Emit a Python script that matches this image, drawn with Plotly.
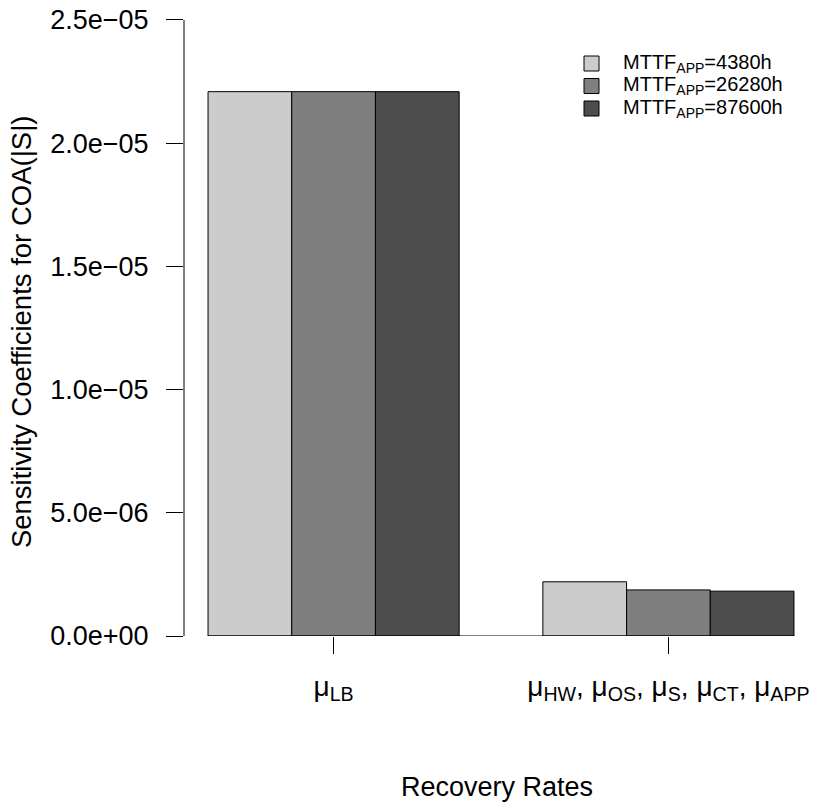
import plotly.graph_objects as go

# Sensitivity coefficients for COA(|S|) by recovery-rate group
groups = ["μ<sub>LB</sub>", "μ<sub>HW</sub>, μ<sub>OS</sub>, μ<sub>S</sub>, μ<sub>CT</sub>, μ<sub>APP</sub>"]
series_names = ["MTTF<sub>APP</sub>=4380h", "MTTF<sub>APP</sub>=26280h", "MTTF<sub>APP</sub>=87600h"]
values_4380 = [2.209e-05, 2.20e-06]
values_26280 = [2.209e-05, 1.87e-06]
values_87600 = [2.209e-05, 1.82e-06]
series_values = [values_4380, values_26280, values_87600]
series_colors = ["#CCCCCC", "#7F7F7F", "#4D4D4D"]

y_tickvals = [0, 5e-06, 1e-05, 1.5e-05, 2e-05, 2.5e-05]
y_ticktext = ["0.0e+00", "5.0e\u221206", "1.0e\u221205", "1.5e\u221205", "2.0e\u221205", "2.5e\u221205"]

x_title = "Recovery Rates"
y_title = "Sensitivity Coefficients for COA(|S|)"

FONT = "Liberation Sans, Arial, Helvetica, sans-serif"

# plot-area geometry in pixels (used for the hand-drawn legend)
W, H = 814, 804
ML, MR, MT, MB = 184, 0, 0, 168
PW, PH = W - ML - MR, H - MT - MB


def px_to_paper(xp, yp):
    return (xp - ML) / PW, 1 - (yp - MT) / PH


fig = go.Figure()
for name, vals, col in zip(series_names, series_values, series_colors):
    fig.add_trace(go.Bar(
        x=groups, y=vals, name=name, showlegend=False,
        marker=dict(color=col, line=dict(color="black", width=1)),
    ))

# axis line along the bars' extent (R barplot style)
fig.add_shape(type="line", xref="x", yref="y", x0=-0.375, x1=1.375, y0=0, y1=0,
              line=dict(color="black", width=1))
# y axis line spanning only the tick range
fig.add_shape(type="line", xref="paper", yref="y", x0=0, x1=0,
              y0=y_tickvals[0], y1=y_tickvals[-1], line=dict(color="black", width=1))

# legend: filled squares with labels
row_y = [63.5, 86, 108.5]
for name, col, yc in zip(series_names, series_colors, row_y):
    x0, y0 = px_to_paper(584, yc - 7.5)
    x1, y1 = px_to_paper(599, yc + 7.5)
    fig.add_shape(type="rect", xref="paper", yref="paper", x0=x0, x1=x1, y0=y0, y1=y1,
                  fillcolor=col, line=dict(color="black", width=1))
    tx, ty = px_to_paper(621, yc)
    fig.add_annotation(text=name, xref="paper", yref="paper", x=tx, y=ty,
                       xanchor="left", yanchor="middle", showarrow=False,
                       font=dict(family=FONT, size=20, color="black"))

fig.add_annotation(text=x_title, xref="paper", yref="paper", x=0.497, y=-0.2374,
                   xanchor="center", yanchor="middle", showarrow=False,
                   font=dict(family=FONT, size=27, color="black"))
fig.add_annotation(text=y_title, xref="paper", yref="paper", x=-0.257, y=0.478,
                   xanchor="center", yanchor="middle", showarrow=False, textangle=-90,
                   font=dict(family=FONT, size=27.5, color="black"))

fig.update_layout(
    width=W, height=H,
    margin=dict(l=ML, r=MR, t=MT, b=MB),
    paper_bgcolor="white", plot_bgcolor="white",
    barmode="group", bargap=0.25, bargroupgap=0,
    font=dict(family=FONT, color="black"),
    showlegend=False,
    xaxis=dict(range=[-0.4468, 1.4348], showgrid=False, zeroline=False, showline=False,
               ticks="outside", ticklen=17, tickwidth=1, tickcolor="black",
               ticklabelstandoff=8,
               tickfont=dict(family=FONT, size=28, color="black")),
    yaxis=dict(range=[0, 25.81e-06], showgrid=False, zeroline=False, showline=False,
               tickmode="array", tickvals=y_tickvals, ticktext=y_ticktext,
               ticks="outside", ticklen=17, tickwidth=1, tickcolor="black",
               ticklabelstandoff=12,
               tickfont=dict(family=FONT, size=27, color="black")),
)

fig.write_html("out.html")
